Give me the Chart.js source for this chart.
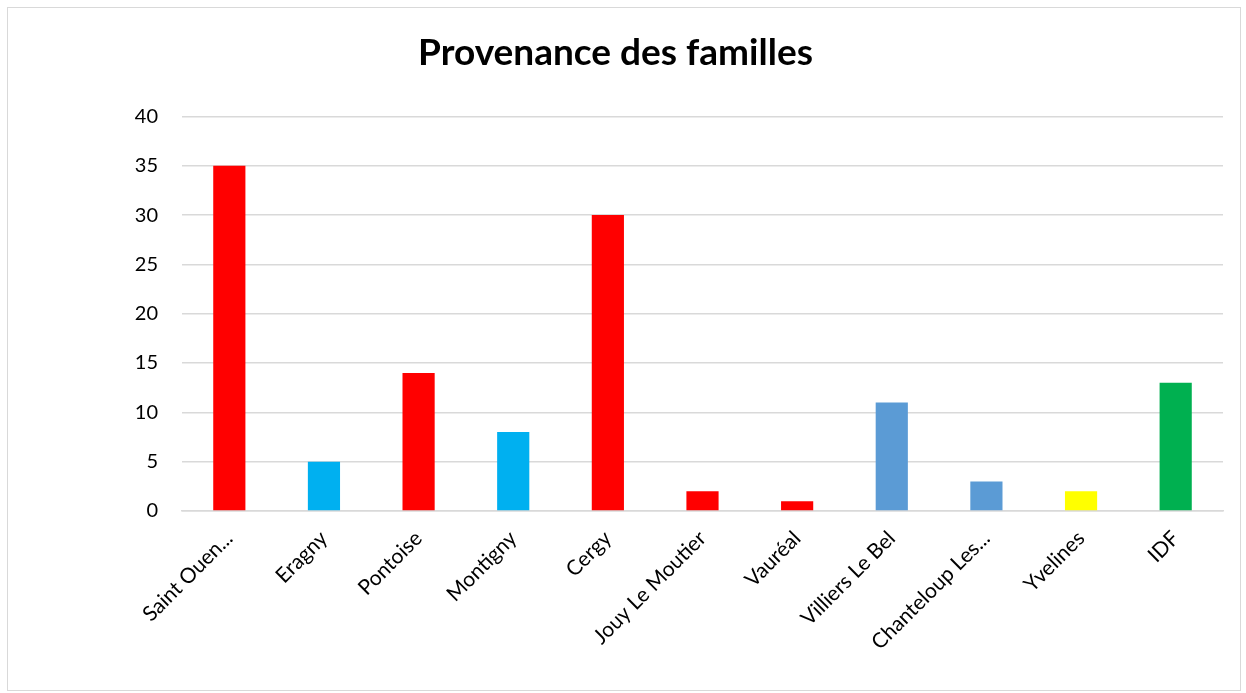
<!DOCTYPE html>
<html lang="fr">
<head>
    <meta charset="UTF-8">
    <title>Provenance des familles</title>
    <style>
        html, body {
            margin: 0;
            padding: 0;
            background: #ffffff;
        }
        #frame {
            position: absolute;
            left: 7px;
            top: 7px;
            width: 1232px;
            height: 682px;
            border: 1px solid #d9d9d9;
            box-sizing: content-box;
        }
        #chartBox {
            position: relative;
            width: 1232px;
            height: 682px;
        }
    </style>
</head>
<body>
    <div id="frame">
        <div id="chartBox">
            <canvas id="famChart"></canvas>
        </div>
    </div>

    <script src="https://cdn.jsdelivr.net/npm/chart.js"></script>
    <script>
        // categories and values
        const villes = ['Saint Ouen...', 'Eragny', 'Pontoise', 'Montigny', 'Cergy', 'Jouy Le Moutier',
                        'Vauréal', 'Villiers Le Bel', 'Chanteloup Les...', 'Yvelines', 'IDF'];
        const familles = [35, 5, 14, 8, 30, 2, 1, 11, 3, 2, 13];
        const couleurs = ['#ff0000', '#00b0f0', '#ff0000', '#00b0f0', '#ff0000', '#ff0000',
                          '#ff0000', '#5b9bd5', '#5b9bd5', '#ffff00', '#00b050'];
        const yTicks = [0, 5, 10, 15, 20, 25, 30, 35, 40];

        const fontFam = 'Lato, "Open Sans", sans-serif';

        new Chart(document.getElementById('famChart'), {
            type: 'bar',
            data: {
                labels: villes,
                datasets: [{
                    data: familles,
                    backgroundColor: couleurs,
                    borderWidth: 0,
                    categoryPercentage: 1,
                    barPercentage: 0.34
                }]
            },
            options: {
                responsive: true,
                maintainAspectRatio: false,
                animation: false,
                layout: { padding: { left: 0, right: 17, top: 0, bottom: 0 } },
                plugins: {
                    legend: { display: false },
                    tooltip: { enabled: false },
                    title: {
                        display: true,
                        text: 'Provenance des familles',
                        color: '#000000',
                        font: { family: fontFam, size: 37, weight: 'bold' },
                        padding: { top: 23, bottom: 41 }
                    }
                },
                scales: {
                    x: {
                        offset: true,
                        grid: { display: false, drawTicks: false },
                        border: { display: true, color: '#d9d9d9', width: 1.5 },
                        ticks: {
                            color: '#000000',
                            font: { family: fontFam, size: 21 },
                            maxRotation: 45,
                            minRotation: 45,
                            autoSkip: false,
                            padding: 15
                        },
                        afterFit: (scale) => { scale.height = 179; }
                    },
                    y: {
                        min: 0,
                        max: 40,
                        afterBuildTicks: (scale) => {
                            scale.ticks = yTicks.map(v => ({ value: v }));
                        },
                        grid: { color: '#d9d9d9', lineWidth: 1.5, drawTicks: false },
                        border: { display: false },
                        ticks: {
                            color: '#000000',
                            font: { family: fontFam, size: 20 },
                            padding: 24
                        },
                        afterFit: (scale) => { scale.width = 174; }
                    }
                }
            }
        });
    </script>
</body>
</html>
